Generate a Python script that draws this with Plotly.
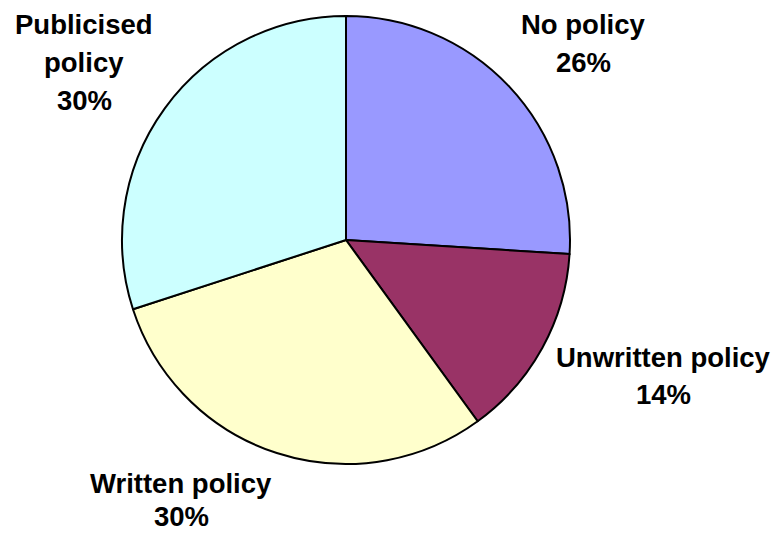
import plotly.graph_objects as go

categories = ["No policy", "Unwritten policy", "Written policy", "Publicised policy"]
values = [26, 14, 30, 30]
colors = ["#9999FF", "#993366", "#FFFFCC", "#CCFFFF"]

# label text lines (kept as text; positions are layout choices)
label_lines = [
    ["No policy", "26%"],
    ["Unwritten policy", "14%"],
    ["Written policy", "30%"],
    ["Publicised", "policy", "30%"],
]
label_pos = [  # (x center px, first-line y px, line spacing px)
    (583, 24, 38),
    (663, 357, 37),
    (181, 483, 34),
    (84, 24, 38),
]

W, H = 773, 534

fig = go.Figure(go.Pie(
    labels=categories,
    values=values,
    sort=False,
    direction="clockwise",
    rotation=0,
    marker=dict(colors=colors, line=dict(color="black", width=2)),
    textinfo="none",
    hoverinfo="label+percent",
    domain=dict(x=[122 / W, 570 / W], y=[(H - 465) / H, (H - 15) / H]),
    showlegend=False,
))

annotations = []
for lines, (cx, y0, dy) in zip(label_lines, label_pos):
    for i, t in enumerate(lines):
        yc = y0 + i * dy
        yc = min(yc, H - 18)
        annotations.append(dict(
            x=cx / W, y=1 - yc / H, xref="paper", yref="paper",
            text=f"<b>{t}</b>", showarrow=False, xanchor="center", yanchor="middle",
            font=dict(family="Liberation Sans, Arial, sans-serif", size=27.5, color="black"),
        ))

fig.update_layout(
    width=W, height=H,
    margin=dict(l=0, r=0, t=0, b=0),
    paper_bgcolor="white",
    plot_bgcolor="white",
    annotations=annotations,
)

fig.write_html("out.html")
